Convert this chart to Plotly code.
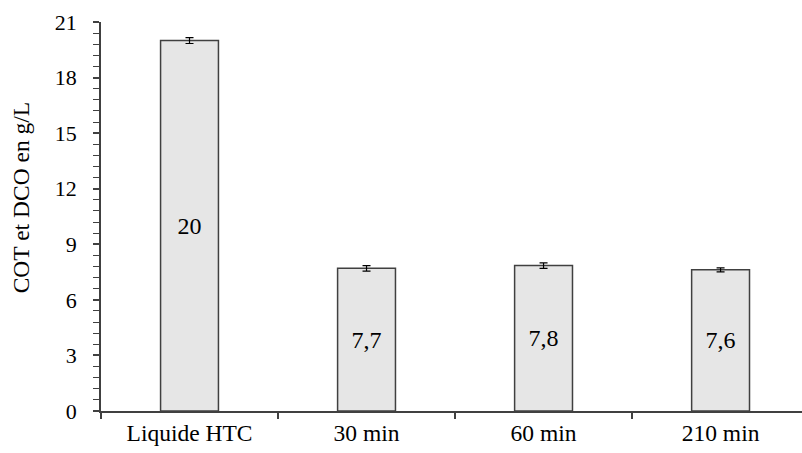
import plotly.graph_objects as go

categories = ["Liquide HTC", "30 min", "60 min", "210 min"]
values = [20.0, 7.7, 7.85, 7.62]
errors = [0.16, 0.15, 0.15, 0.11]
bar_labels = ["20", "7,7", "7,8", "7,6"]

FONT = "Liberation Serif"

fig = go.Figure()
fig.add_trace(go.Bar(
    x=categories, y=values,
    width=0.327,
    marker=dict(color="#e6e6e6", line=dict(color="#404040", width=1.5)),
    error_y=dict(type="data", array=errors, visible=True, color="#000000", thickness=1.2, width=4),
    text=bar_labels, textposition="inside", insidetextanchor="middle",
    textfont=dict(family=FONT, size=24, color="#000000"),
    textangle=0,
    hoverinfo="skip",
))

fig.update_layout(
    width=802, height=453,
    margin=dict(l=101, r=0, t=22, b=41.5),
    paper_bgcolor="white", plot_bgcolor="white",
    showlegend=False,
    font=dict(family=FONT, color="#000000"),
)
fig.update_xaxes(
    range=[-0.5, 3.46],
    showline=True, linecolor="#404040", linewidth=1.5,
    ticks="outside", tickson="boundaries", ticklen=6, tickwidth=1.5, tickcolor="#404040",
    tickfont=dict(family=FONT, size=23.5, color="#000000"),
    showgrid=False, zeroline=False,
)
minor_vals = [round(i * 0.6, 1) for i in range(36)]
fig.update_yaxes(
    range=[0, 21], tick0=0, dtick=3,
    showline=True, linecolor="#404040", linewidth=1.5,
    ticks="outside", ticklen=6, tickwidth=1.5, tickcolor="#404040",
    minor=dict(tickmode="array", tickvals=minor_vals, ticks="outside", ticklen=6,
               tickwidth=1.2, tickcolor="#404040", showgrid=False),
    tickfont=dict(family=FONT, size=22, color="#000000"),
    ticklabelstandoff=12,
    showgrid=False, zeroline=False,
)
fig.add_annotation(
    text="COT et DCO en g/L", textangle=-90,
    xref="paper", yref="paper", x=-0.114, y=0.547,
    xanchor="center", yanchor="middle", showarrow=False,
    font=dict(family=FONT, size=23.5, color="#000000"),
)

fig.write_html("out.html", post_script="document.body.style.margin='0';",
               config={"displayModeBar": False})
